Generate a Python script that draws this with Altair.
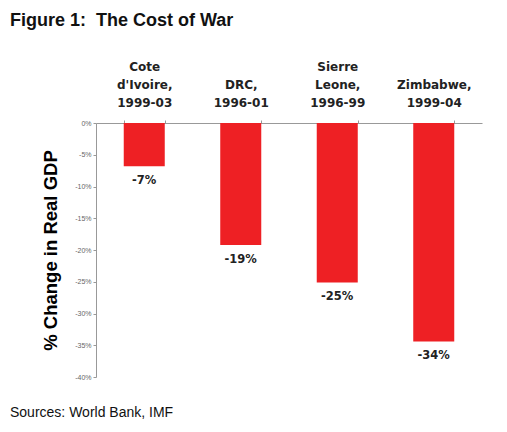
import altair as alt
import pandas as pd

# ---- data ----
categories = ["Cote|d'Ivoire,|1999-03", "|DRC,|1996-01", "Sierre|Leone,|1996-99", "|Zimbabwe,|1999-04"]
values = [-6.8, -19.2, -25.1, -34.4]
y_ticks = [0, -5, -10, -15, -20, -25, -30, -35, -40]
title_text = "Figure 1:\u00a0 The Cost of War"
source_text = "Sources: World Bank, IMF"
y_title = "% Change in Real GDP"

df = pd.DataFrame({"country": categories, "value": values})

x_enc = alt.X(
    "country:N", sort=categories, title=None,
    scale=alt.Scale(paddingInner=0.575, paddingOuter=0.2875),
    axis=alt.Axis(
        orient="top", labelExpr="split(datum.label, '|')", labelAngle=0,
        labelFont="DejaVu Sans", labelFontWeight="bold", labelFontSize=12,
        labelColor="#222", labelLineHeight=18, labelPadding=47,
        tickSize=3, tickBand="extent", domainColor="#999", tickColor="#999",
        labelOverlap=False,
    ),
)
y_enc = alt.Y(
    "value:Q", scale=alt.Scale(domain=[-40, 0], nice=False),
    axis=alt.Axis(
        values=y_ticks, labelExpr="datum.value + '%'", grid=False,
        title=y_title, titleFont="Liberation Sans", titleFontSize=18.5,
        titleFontWeight="bold", titleColor="#000", titleX=-40, titleY=127,
        titleBaseline="alphabetic",
        labelFont="Liberation Sans", labelFontSize=7, labelColor="#666",
        labelPadding=2, tickSize=3, domainColor="#999", tickColor="#999",
    ),
)

base = alt.Chart(df).encode(x=x_enc, y=y_enc)

bars = base.mark_bar(color="#ee2024")
labels = base.transform_calculate(label="round(datum.value) + '%'").mark_text(
    dy=15, baseline="middle", align="center", font="DejaVu Sans",
    fontWeight="bold", fontSize=11.5, color="#222",
).encode(text="label:N")

title = alt.Chart(pd.DataFrame({"t": [title_text]})).mark_text(
    align="left", baseline="alphabetic", font="Liberation Sans",
    fontSize=18, fontWeight="bold", color="#111",
).encode(x=alt.value(-86), y=alt.value(-97), text="t:N")

source = alt.Chart(pd.DataFrame({"t": [source_text]})).mark_text(
    align="left", baseline="alphabetic", font="Liberation Sans",
    fontSize=14, color="#111",
).encode(x=alt.value(-86), y=alt.value(294), text="t:N")

chart = alt.layer(bars, labels, title, source).properties(
    width=386, height=254,
    autosize=alt.AutoSizeParams(type="none"),
    padding={"left": 88, "top": 115, "right": 17, "bottom": 47},
).configure_view(stroke=None)

chart.save("out.html", embed_options={"renderer": "svg", "actions": False})
